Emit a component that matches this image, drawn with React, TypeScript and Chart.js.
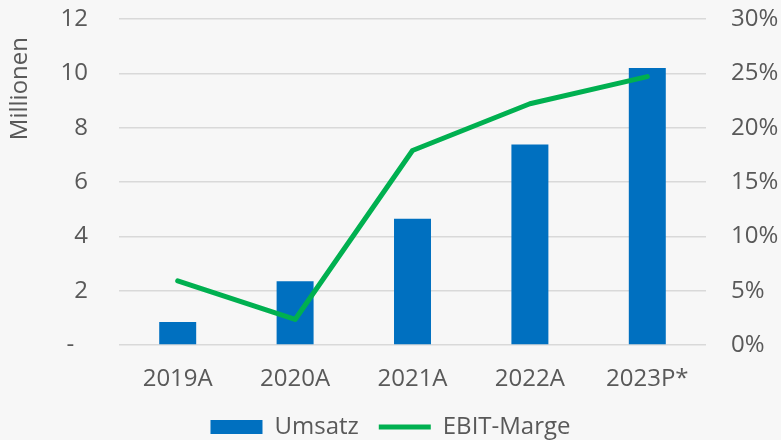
import React, { useEffect, useRef } from "react";
import { Chart, registerables } from "chart.js";

Chart.register(...registerables);

const categories = ["2019A", "2020A", "2021A", "2022A", "2023P*"];
const umsatz = [0.85, 2.35, 4.65, 7.38, 10.2];
const ebitMarge = [5.9, 2.35, 17.9, 22.2, 24.7];
const leftTicks = [0, 2, 4, 6, 8, 10, 12];
const rightTicks = [0, 5, 10, 15, 20, 25, 30];

const FONT = "'Open Sans', sans-serif";
const TEXT = "#595959";
const FS = 24;

export default function App() {
  const ref = useRef<HTMLCanvasElement | null>(null);

  useEffect(() => {
    document.body.style.margin = "0";
    document.body.style.background = "#f7f7f7";
    const ctx = ref.current!;
    const chart = new Chart(ctx, {
      type: "bar",
      data: {
        labels: categories,
        datasets: [
          {
            type: "line",
            label: "EBIT-Marge",
            data: ebitMarge,
            yAxisID: "y1",
            borderColor: "#00B050",
            backgroundColor: "#00B050",
            borderWidth: 5,
            borderCapStyle: "round",
            borderJoinStyle: "round",
            pointRadius: 0,
            pointHoverRadius: 0,
            pointStyle: "line",
            tension: 0,
            order: 0,
          } as any,
          {
            type: "bar",
            label: "Umsatz",
            data: umsatz,
            yAxisID: "y",
            backgroundColor: "#0070C0",
            borderWidth: 0,
            pointStyle: "rect",
            categoryPercentage: 1,
            barPercentage: 0.315,
            order: 1,
          } as any,
        ],
      },
      options: {
        animation: false,
        responsive: false,
        maintainAspectRatio: false,
        layout: { padding: { top: 19, bottom: -9, left: 0, right: 0 } },
        plugins: {
          tooltip: { enabled: false },
          legend: {
            position: "bottom",
            reverse: true,
            labels: {
              usePointStyle: true,
              pointStyleWidth: 52,
              boxHeight: 14,
              padding: 20,
              color: TEXT,
              font: { family: FONT, size: FS },
            },
          },
        },
        scales: {
          x: {
            grid: { display: false, drawTicks: false },
            border: { display: false },
            afterFit: (s: any) => {
              s.height = 50;
            },
            ticks: { color: TEXT, font: { family: FONT, size: FS }, padding: 20 },
          },
          y: {
            position: "left",
            min: 0,
            max: 12,
            afterBuildTicks: (s: any) => {
              s.ticks = leftTicks.map((v) => ({ value: v }));
            },
            afterFit: (s: any) => {
              s.width = 119;
              s.paddingTop = 0;
              s.paddingBottom = 0;
            },
            grid: { color: "#d9d9d9", lineWidth: 1.5, drawTicks: false },
            border: { display: false },
            ticks: {
              color: TEXT,
              font: { family: FONT, size: FS },
              padding: 31,
              callback: (v: any) => (v === 0 ? "-\u2007" : String(v)),
            },
            title: {
              display: true,
              text: "Millionen\u2002\u2005",
              align: "end",
              color: TEXT,
              font: { family: FONT, size: FS },
              padding: { top: 6, bottom: 0 },
            },
          },
          y1: {
            position: "right",
            min: 0,
            max: 30,
            afterBuildTicks: (s: any) => {
              s.ticks = rightTicks.map((v) => ({ value: v }));
            },
            afterFit: (s: any) => {
              s.width = 75;
              s.paddingTop = 0;
              s.paddingBottom = 0;
            },
            grid: { display: false, drawTicks: false },
            border: { display: false },
            ticks: {
              color: TEXT,
              font: { family: FONT, size: FS },
              padding: 25,
              callback: (v: any) => v + "%",
            },
          },
        },
      },
    });
    return () => chart.destroy();
  }, []);

  return (
    <div style={{ position: "absolute", left: 0, top: 0, width: 781, height: 440, background: "#f7f7f7" }}>
      <canvas ref={ref} width={781} height={440} style={{ width: 781, height: 440 }} />
    </div>
  );
}
